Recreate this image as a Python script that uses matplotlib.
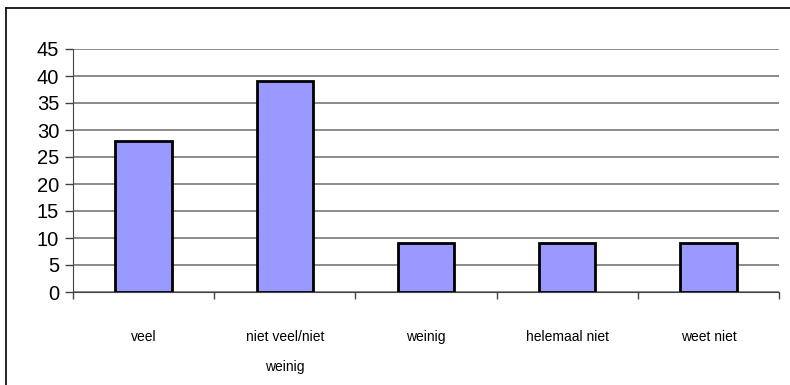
import matplotlib
matplotlib.use("Agg")
import matplotlib.pyplot as plt
from matplotlib.lines import Line2D

plt.rcParams["font.family"] = ["Liberation Sans", "DejaVu Sans"]

categories = ["veel", "niet veel/niet\n\nweinig", "weinig", "helemaal niet", "weet niet"]
values = [28, 39, 9, 9, 9]
yticks = [0, 5, 10, 15, 20, 25, 30, 35, 40, 45]

fig = plt.figure(figsize=(7.9, 3.85), dpi=100)
ax = fig.add_axes([73 / 790, 1 - 292 / 385, (779 - 73) / 790, (292 - 49) / 385])

x = list(range(len(categories)))
ax.bar(x, values, width=0.4, color="#9999FF", edgecolor="black", linewidth=2.0, zorder=3)

ax.set_xlim(-0.5, len(categories) - 0.5)
ax.set_ylim(0, 45)
ax.set_yticks(yticks)
ax.set_yticklabels([str(t) for t in yticks], fontsize=14.5)
ax.tick_params(axis="y", length=6, width=1, color="#444444", pad=4)

# category boundaries carry the ticks, labels sit centred below each bar
ax.set_xticks([i - 0.5 for i in range(len(categories) + 1)])
ax.set_xticklabels([])
ax.tick_params(axis="x", length=5, width=1, color="#444444", direction="out")
for i, lab in enumerate(categories):
    ax.text(i, -0.155, lab, transform=ax.get_xaxis_transform(), ha="center", va="top",
            fontsize=10, linespacing=1.12)

ax.grid(axis="y", color="#777777", linewidth=1.2, zorder=0)
for side in ["top", "right"]:
    ax.spines[side].set_visible(False)
ax.spines["left"].set_color("#444444")
ax.spines["bottom"].set_color("#444444")

# outer frame: top and left edges
fig.add_artist(Line2D([6 / 790, 1], [1 - 8 / 385, 1 - 8 / 385], transform=fig.transFigure,
                      color="black", linewidth=1.2))
fig.add_artist(Line2D([6 / 790, 6 / 790], [0, 1 - 8 / 385], transform=fig.transFigure,
                      color="black", linewidth=1.2))

fig.savefig("out.png", dpi=100)
